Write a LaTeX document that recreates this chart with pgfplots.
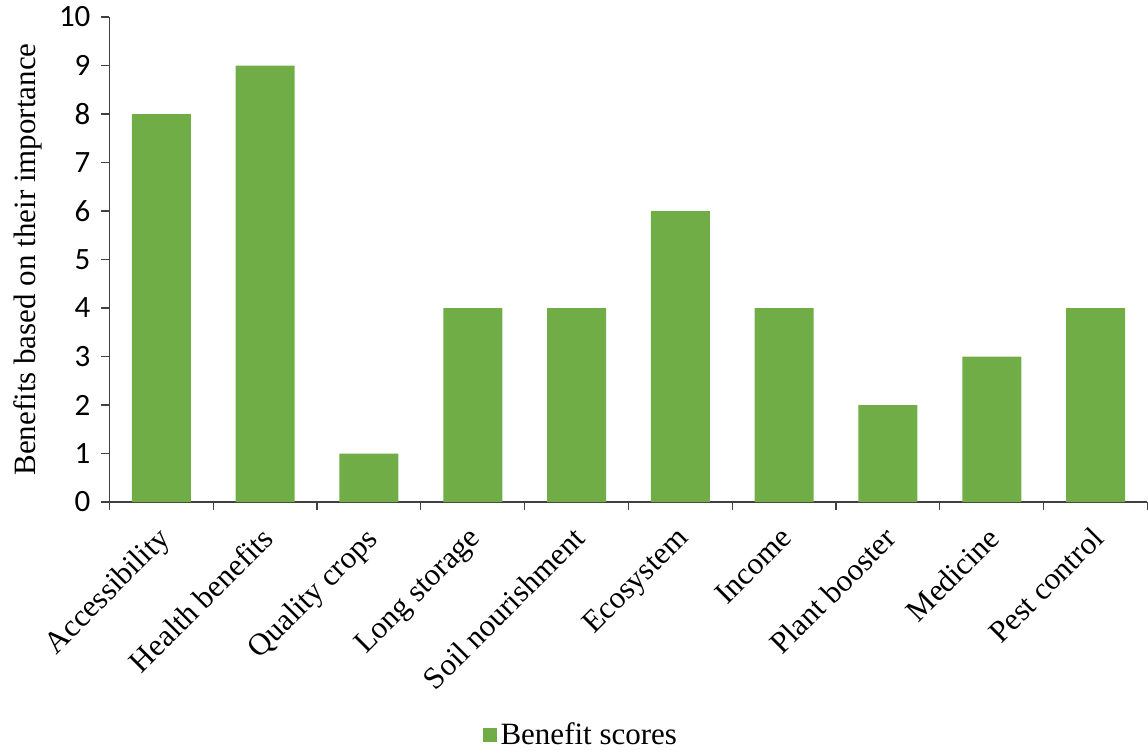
\documentclass[border=0pt]{standalone}
\usepackage{fontspec}
\setmainfont{Liberation Serif}
\newfontfamily\tnr{Liberation Serif}
\newfontfamily\calibri{Carlito}
\usepackage{pgfplots}
\pgfplotsset{compat=1.18}
\definecolor{barg}{HTML}{70AD47}
\definecolor{axg}{HTML}{404040}
\begin{document}
\begin{tikzpicture}
\useasboundingbox (0,0) rectangle (574pt,375.5pt);
\begin{axis}[
  at={(54.75pt,124.5pt)}, anchor=south west,
  scale only axis, width=519pt, height=242.5pt,
  xmin=-0.5, xmax=9.5, ymin=0, ymax=10,
  axis x line*=bottom, axis y line*=left,
  axis line style={axg, line width=0.6pt},
  ytick={0,1,...,10},
  xtick={0,...,9},
  xticklabels={Accessibility,Health benefits,Quality crops,Long storage,Soil nourishment,Ecosystem,Income,Plant booster,Medicine,Pest control},
  major x tick style={draw=none},
  minor xtick={-0.5,0.5,...,9.5},
  minor tick length=4pt,
  major tick length=4pt,
  tick align=outside,
  tick style={axg, line width=0.6pt},
  /pgf/number format/assume math mode=true,
  yticklabel={\calibri\pgfmathprintnumber{\tick}},
  yticklabel style={font=\fontsize{15.5}{18}\selectfont, xshift=-2pt},
  xticklabel style={font=\tnr\fontsize{15.5}{18}\selectfont, rotate=45, anchor=north east, inner sep=1pt, xshift=-6.2pt, yshift=-2.3pt},
  ylabel={\tnr Benefits based on their importance},
  ylabel style={font=\tnr\fontsize{15.5}{18}\selectfont, at={(rel axis cs:-0.0785,0.5)}, anchor=center},
  ybar, bar width=29.5pt,
  legend style={at={(axis description cs:0.455,-0.48)}, anchor=center, draw=none, font=\tnr\fontsize{15.5}{18}\selectfont, inner sep=1pt},
  legend image code/.code={\fill[barg] (-1.5pt,-3.5pt) rectangle (5.5pt,3.5pt);},
  clip=false,
]
\addplot[fill=barg, draw=none] coordinates {(0,8) (1,9) (2,1) (3,4) (4,4) (5,6) (6,4) (7,2) (8,3) (9,4)};
\addlegendentry{\tnr Benefit scores}
\end{axis}
\end{tikzpicture}
\end{document}
